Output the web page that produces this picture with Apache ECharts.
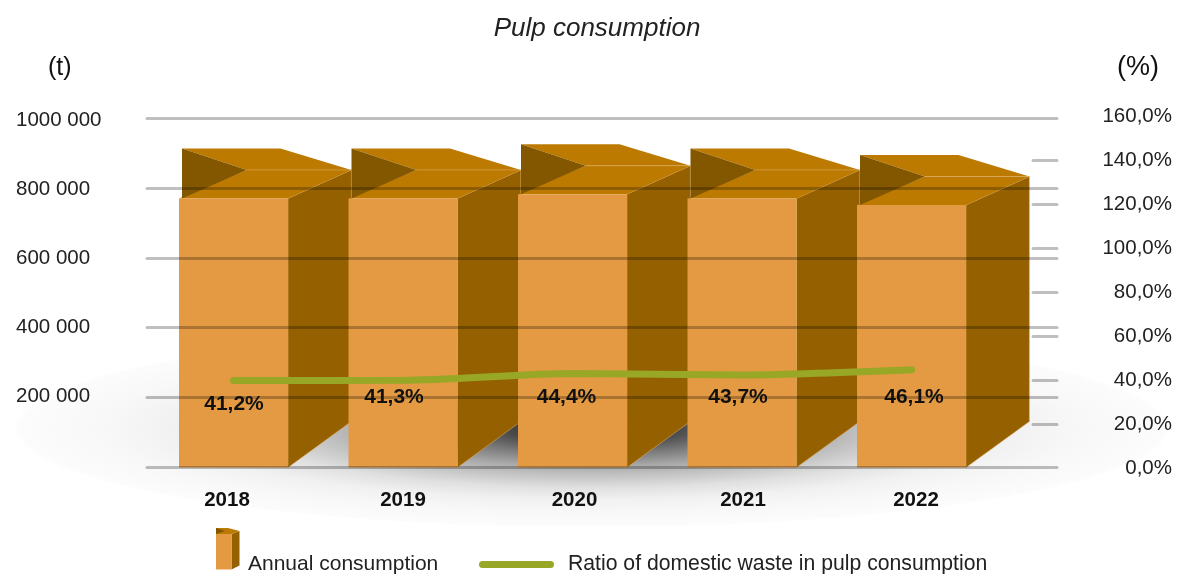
<!DOCTYPE html>
<html>
<head>
<meta charset="utf-8">
<style>html,body{margin:0;padding:0;background:#fff}#c{width:1180px;height:574px}</style>
<script src="https://cdn.jsdelivr.net/npm/echarts@6/dist/echarts.min.js"></script>
</head>
<body>
<div id="c"></div>
<script>
const years = ['2018', '2019', '2020', '2021', '2022'];
const consumption = [770000, 770000, 782000, 770000, 751000];
const wasteRatio = [41.2, 41.3, 44.4, 43.7, 46.1];
const leftTicks = [200000, 400000, 600000, 800000, 1000000];
const rightTicks = [0, 20, 40, 60, 80, 100, 120, 140, 160];
const rightInnerTicks = [20, 40, 60, 80, 100, 120, 140];

const FONT = '"Liberation Sans", Arial, sans-serif';
const GRIDLINE = 'rgba(0,0,0,0.25)';
const GREEN = '#98a826';
const FRONT = '#e39a43', SIDE = '#956000', CAP = '#bd7a00', CAP_DARK = '#835600', EDGE = 'rgba(225,175,105,0.55)';
const labelShift = [[0.5, 24], [-9, 17], [-6, 24], [-4, 22], [2.5, 27]];
const yearPad = [[0, 13, 0, 0], [0, 0, 0, 0], [0, 0, 0, 4], [0, 0, 0, 2], [0, 0, 0, 9]];

const chart = echarts.init(document.getElementById('c'));

function poly(points, fill, stroke) {
  return { type: 'polygon', shape: { points }, style: { fill, stroke: stroke || 'none', lineWidth: stroke ? 1 : 0 } };
}

function renderBar(params, api) {
  const top = api.coord([api.value(0), api.value(1)]);
  const base = api.coord([api.value(0), 0]);
  const band = api.size([1, 0])[0];
  const w = band * 0.643, depth = band * 0.374;
  const x0 = top[0] - w / 2, t = top[1], b = base[1];
  const backTop = t - 28.5, capTop = t - 50;
  const apex = x0 + depth * 1.07, far = x0 + w + depth;
  return {
    type: 'group',
    children: [
      poly([[x0 + w, t], [far, backTop], [far, b - 46], [x0 + w, b]], SIDE, EDGE),
      poly([[x0 + 3, capTop], [x0 + 101.5, capTop], [far, backTop], [apex, backTop]], CAP),
      poly([[x0, t], [x0 + w, t], [far, backTop], [apex, backTop]], CAP),
      poly([[x0 + 3, capTop], [x0 + 3, t], [apex, backTop]], CAP_DARK),
      { type: 'line', shape: { x1: apex, y1: backTop, x2: far, y2: backTop }, style: { stroke: EDGE, lineWidth: 1 } },
      { type: 'rect', shape: { x: x0, y: t, width: w, height: b - t }, style: { fill: FRONT } }
    ]
  };
}

const hiddenX = i => ({ gridIndex: i, type: 'category', show: false, data: years });

chart.setOption({
  animation: false,
  backgroundColor: '#fff',
  textStyle: { fontFamily: FONT },
  title: [
    { text: 'Pulp consumption', left: 592, top: 11, textAlign: 'center', textStyle: { fontFamily: FONT, fontStyle: 'italic', fontWeight: 'normal', fontSize: 26, color: '#222' } },
    { text: '(t)', left: 48, top: 56, padding: 0, textStyle: { fontFamily: FONT, fontWeight: 'normal', fontSize: 25, color: '#111' } },
    { text: '(%)', left: 1117, top: 54, padding: 0, textStyle: { fontFamily: FONT, fontWeight: 'normal', fontSize: 27, color: '#111' } }
  ],
  legend: [
    { left: 248, top: 554, padding: 0, selectedMode: false, itemGap: 0, itemWidth: 1, itemHeight: 1,
      data: [{ name: 'Annual consumption', icon: 'rect', itemStyle: { opacity: 0 } }],
      textStyle: { fontFamily: FONT, fontSize: 21, color: '#222', padding: [0, 0, 0, -6] } },
    { left: 479, top: 554, padding: 0, selectedMode: false, itemWidth: 75, itemHeight: 7,
      data: [{ name: 'Ratio of domestic waste in pulp consumption', icon: 'path://M3.5 0H71.5A3.5 3.5 0 0 1 71.5 7H3.5A3.5 3.5 0 0 1 3.5 0Z' }],
      textStyle: { fontFamily: FONT, fontSize: 21.2, color: '#222', padding: [0, 0, 0, 9] } }
  ],
  grid: [
    { left: 147, right: 123, top: 118, height: 349.5 },
    { left: 148.75, width: 847.5, top: 118, height: 349.5 },
    { left: 148.75, width: 847.5, top: 121, height: 349.5 },
    { left: 147, right: 123, top: 120, height: 346 },
    { left: 147, right: 123, top: 116, height: 352 }
  ],
  xAxis: [
    hiddenX(0),
    { gridIndex: 1, type: 'category', axisLine: { show: false }, axisTick: { show: false },
      data: years.map((y, i) => ({ value: y, textStyle: { padding: yearPad[i] } })),
      axisLabel: { margin: 22, fontFamily: FONT, fontSize: 20.5, fontWeight: 'bold', color: '#111' } },
    hiddenX(2), hiddenX(3), hiddenX(4)
  ],
  yAxis: [
    { gridIndex: 0, type: 'value', min: 0, max: 1000000, interval: 200000, z: 6,
      axisLine: { show: false }, axisTick: { show: false }, axisLabel: { show: false },
      splitLine: { show: true, lineStyle: { color: GRIDLINE, width: 3, cap: 'round' } } },
    { gridIndex: 1, type: 'value', show: false, min: 0, max: 1000000, splitLine: { show: false } },
    { gridIndex: 2, type: 'value', show: false, min: 0, max: 160, splitLine: { show: false } },
    { gridIndex: 3, type: 'value', min: 0, max: 1000000, interval: 200000, position: 'left',
      axisLine: { show: false }, axisTick: { show: false }, splitLine: { show: false },
      axisLabel: { customValues: leftTicks, margin: 131, align: 'left', fontFamily: FONT, fontSize: 20.5, color: '#222',
        formatter: v => String(v).replace(/(\d{3})$/, ' $1') } },
    { gridIndex: 4, type: 'value', min: 0, max: 160, interval: 20, position: 'right',
      axisLine: { show: false }, splitLine: { show: false },
      axisTick: { show: true, inside: true, length: 24, customValues: rightInnerTicks, lineStyle: { color: GRIDLINE, width: 3, cap: 'round' } },
      axisLabel: { customValues: rightTicks, margin: 115, align: 'right', padding: [2, 0, 0, 0], fontFamily: FONT, fontSize: 20.5, color: '#222',
        formatter: v => v.toFixed(1).replace('.', ',') + '%' } }
  ],
  graphic: [
    { type: 'circle', x: 592, y: 428, scaleY: 0.172, z: 0, silent: true, shape: { cx: 0, cy: 0, r: 578 },
      style: { fill: new echarts.graphic.RadialGradient(0.5, 0.5, 0.5, [
        { offset: 0, color: '#222222' }, { offset: 0.15, color: '#4a4a4a' }, { offset: 0.25, color: '#777777' },
        { offset: 0.38, color: '#a8a8a8' }, { offset: 0.45, color: '#bcbcbc' }, { offset: 0.6, color: '#e0e0e0' },
        { offset: 0.72, color: '#f1f1f1' }, { offset: 0.85, color: '#f8f8f8' }, { offset: 0.99, color: '#fcfcfc' }, { offset: 1, color: '#ffffff' }
      ]) } },
    { type: 'group', z: 3, silent: true, children: [
      { type: 'polygon', shape: { points: [[231.5, 534], [239.5, 531], [239.5, 565.5], [231.5, 569.5]] }, style: { fill: SIDE } },
      { type: 'polygon', shape: { points: [[216, 528], [228, 528], [239.5, 531], [231.5, 534], [216, 534]] }, style: { fill: CAP } },
      { type: 'polygon', shape: { points: [[216, 528], [216, 534], [225, 531]] }, style: { fill: CAP_DARK } },
      { type: 'rect', shape: { x: 216, y: 534, width: 15.5, height: 35.5 }, style: { fill: FRONT } }
    ] }
  ],
  series: [
    { name: 'Annual consumption', type: 'custom', xAxisIndex: 1, yAxisIndex: 1, z: 3,
      itemStyle: { color: FRONT }, encode: { x: 0, y: 1 },
      data: years.map((y, i) => [i, consumption[i]]), renderItem: renderBar },
    { name: 'Ratio of domestic waste in pulp consumption', type: 'line', xAxisIndex: 2, yAxisIndex: 2, z: 8,
      smooth: 0.25, showSymbol: true, symbol: 'circle', symbolSize: 1, clip: false,
      lineStyle: { color: GREEN, width: 7, cap: 'round' }, itemStyle: { color: GREEN },
      data: wasteRatio.map((v, i) => ({ value: v, label: { show: true, position: 'inside', offset: labelShift[i] } })),
      label: { show: true, fontFamily: FONT, fontSize: 21, fontWeight: 'bold', color: '#111',
        formatter: p => p.value.toFixed(1).replace('.', ',') + '%' } }
  ]
});
</script>
</body>
</html>
